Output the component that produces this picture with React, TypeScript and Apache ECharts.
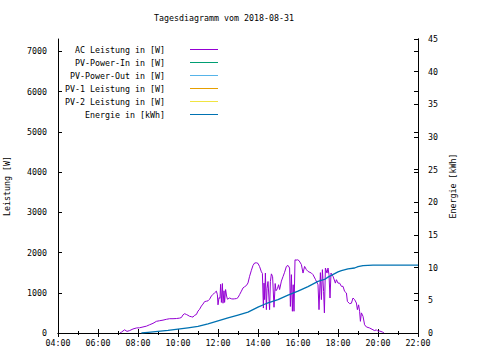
import React, { useEffect, useRef } from "react";
import * as echarts from "echarts";

const titleText = "Tagesdiagramm vom 2018-08-31";
const leftAxisName = "Leistung [W]";
const rightAxisName = "Energie [kWh]";

const legendNames = [
  "AC Leistung in [W]",
  "PV-Power-In in [W]",
  "PV-Power-Out in [W]",
  "PV-1 Leistung in [W]",
  "PV-2 Leistung in [W]",
  "Energie in [kWh]",
];
const legendColors = ["#9400d3", "#009e73", "#56b4e9", "#e69f00", "#f0e442", "#0072b2"];

// time in hours (decimal), AC power in W
const acTimes = [
  7.1, 7.17, 7.33, 7.45, 7.58, 7.75, 7.92, 8.08, 8.25, 8.42, 8.58, 8.75, 8.92, 9.08, 9.25, 9.42, 9.58, 9.75, 9.92,
  10.08, 10.17, 10.25, 10.33, 10.42, 10.5, 10.58, 10.67, 10.75, 10.83, 10.92, 11.0, 11.08, 11.17, 11.25, 11.33,
  11.42, 11.5, 11.58, 11.67, 11.75, 11.83, 11.92, 11.97, 12.0, 12.05, 12.1, 12.13, 12.17, 12.22, 12.25, 12.3,
  12.33, 12.38, 12.43, 12.47, 12.58, 12.67, 12.75, 12.83, 12.92, 13.0, 13.08, 13.17, 13.25, 13.33, 13.42, 13.5,
  13.58, 13.67, 13.75, 13.83, 13.92, 14.0, 14.08, 14.17, 14.22, 14.27, 14.3, 14.33, 14.37, 14.42, 14.45, 14.5,
  14.58, 14.62, 14.67, 14.73, 14.8, 14.86, 14.9, 14.97, 15.03, 15.08, 15.17, 15.25, 15.33, 15.42, 15.5, 15.58,
  15.62, 15.67, 15.72, 15.76, 15.8, 15.85, 15.9, 15.97, 16.05, 16.17, 16.25, 16.33, 16.42, 16.5, 16.67, 16.75,
  16.88, 17.0, 17.05, 17.12, 17.17, 17.22, 17.28, 17.32, 17.37, 17.45, 17.5, 17.55, 17.6, 17.65, 17.75, 17.87,
  17.92, 18.0, 18.08, 18.17, 18.25, 18.33, 18.42, 18.47, 18.58, 18.67, 18.75, 18.83, 18.92, 18.97, 19.03, 19.08,
  19.12, 19.17, 19.25, 19.33, 19.42, 19.58, 19.75, 19.83, 19.92, 20.0, 20.08, 20.22, 20.3,
];
const acValues = [
  0, 20, 80, 40, 60, 100, 125, 130, 150, 170, 205, 240, 290, 305, 320, 340, 355, 355, 360,
  370, 385, 450, 480, 460, 440, 415, 405, 395, 440, 460, 545, 590, 670, 720, 780,
  790, 800, 840, 920, 960, 1000, 1040, 950, 700, 880, 860, 1210, 760, 1230, 740, 1050,
  760, 1080, 920, 840, 870, 850, 845, 850, 855, 880, 955, 1040, 1120, 1150, 1180, 1245,
  1410, 1560, 1680, 1740, 1745, 1730, 1650, 1520, 1480, 620, 1240, 830, 1490, 580, 1100, 1280,
  580, 1280, 1470, 1400, 640, 1230, 1050, 1100, 1200, 1080, 1290, 1400, 1510, 1655, 1680, 1615,
  660, 1450, 540, 1200, 540, 1820, 1810, 1820, 1800, 1700, 1490, 1655, 1575, 1530, 1490, 1450,
  1325, 1200, 580, 1500, 830, 1575, 1035, 500, 1615, 1490, 1615, 1450, 870, 1490, 1410, 1240,
  1325, 1240, 1240, 1160, 1160, 1035, 995, 785, 730, 740, 870, 830, 745, 580, 700, 540,
  290, 500, 415, 205, 150, 125, 80, 60, 80, 40, 50, 25, 0,
];

// time in hours, energy in kWh
const energyTimes = [
  8.17, 8.5, 9.0, 9.5, 10.0, 10.5, 11.0, 11.5, 12.0, 12.5, 13.0, 13.5, 14.0, 14.33, 14.5, 15.0, 15.5, 16.0,
  16.5, 17.0, 17.33, 17.5, 18.0, 18.17, 18.5, 18.83, 19.0, 19.25, 19.75, 22.0,
];
const energyValues = [
  0.0, 0.1, 0.25, 0.4, 0.6, 0.8, 1.0, 1.4, 1.85, 2.3, 2.75, 3.2, 3.95, 4.4, 4.6, 5.1, 5.8, 6.4,
  7.1, 7.9, 8.2, 8.55, 9.35, 9.55, 9.8, 9.95, 10.15, 10.3, 10.4, 10.4,
];

const xTicks = [4, 22, 2];
const leftTicks = [0, 7308, 1000];
const rightTicks = [0, 45, 5];

const FONT = "DejaVu Sans Mono";
const FS = 8.3;

export default function App() {
  const ref = useRef<HTMLDivElement>(null);
  useEffect(() => {
    document.body.style.margin = "0";
    const chart = echarts.init(ref.current!, null, { renderer: "svg" });
    const black = "#000";
    const fmtTime = (v: number) => (v < 10 ? "0" : "") + v + ":00";
    const axisCommon = {
      axisLine: { show: true, lineStyle: { color: black, width: 1 } },
      axisTick: { show: true, inside: true, length: 4, lineStyle: { color: black } },
      splitLine: { show: false },
    };
    const acData = acTimes.map((t, i) => [t, acValues[i]]);
    const enData = energyTimes.map((t, i) => [t, energyValues[i]]);
    const legendGraphics: any[] = [];
    legendNames.forEach((n, i) => {
      const y = 49.5 + i * 13;
      legendGraphics.push({
        type: "text",
        x: 165,
        y,
        z: 100,
        style: { text: n, fill: black, font: `${FS}px "${FONT}"`, textAlign: "right", textVerticalAlign: "middle" },
      });
      legendGraphics.push({
        type: "line",
        shape: { x1: 190, y1: y, x2: 218, y2: y },
        style: { stroke: legendColors[i], lineWidth: 1 },
      });
    });
    const gridBox = { left: 58, right: 62, top: 39, bottom: 27, containLabel: false, outerBoundsMode: "none" };
    chart.setOption({
      animation: false,
      backgroundColor: "#fff",
      grid: [{ ...gridBox }, { ...gridBox }],
      xAxis: [
        {
          ...axisCommon,
          gridIndex: 0,
          type: "value",
          position: "bottom",
          min: xTicks[0],
          max: xTicks[1],
          interval: xTicks[2],
          minorTick: { show: true, splitNumber: 2, length: 2, lineStyle: { color: black } },
          axisLabel: { margin: 6, color: black, fontFamily: FONT, fontSize: FS, formatter: fmtTime },
        },
        {
          ...axisCommon,
          gridIndex: 1,
          type: "value",
          position: "top",
          min: xTicks[0],
          max: xTicks[1],
          interval: xTicks[2],
          minorTick: { show: true, splitNumber: 2, length: 2, lineStyle: { color: black } },
          axisLabel: { show: false },
        },
      ],
      yAxis: [
        {
          ...axisCommon,
          gridIndex: 0,
          type: "value",
          position: "left",
          min: leftTicks[0],
          max: leftTicks[1],
          interval: leftTicks[2],
          axisLabel: {
            margin: 11,
            color: black,
            fontFamily: FONT,
            fontSize: FS,
            showMaxLabel: false,
            formatter: (v: number) => String(v),
          },
          name: leftAxisName,
          nameLocation: "middle",
          nameRotate: 90,
          nameGap: 47,
          nameTextStyle: { color: black, fontFamily: FONT, fontSize: FS },
        },
        {
          ...axisCommon,
          gridIndex: 0,
          type: "value",
          position: "right",
          min: rightTicks[0],
          max: rightTicks[1],
          interval: rightTicks[2],
          axisLabel: { margin: 10, color: black, fontFamily: FONT, fontSize: FS, formatter: (v: number) => String(v) },
          name: rightAxisName,
          nameLocation: "middle",
          nameRotate: 90,
          nameGap: 30,
          nameTextStyle: { color: black, fontFamily: FONT, fontSize: FS },
        },
        {
          ...axisCommon,
          gridIndex: 1,
          type: "value",
          position: "right",
          min: leftTicks[0],
          max: leftTicks[1],
          interval: leftTicks[2],
          axisLabel: { show: false },
        },
      ],
      graphic: [
        {
          type: "text",
          x: 224,
          y: 18,
          style: { text: titleText, fill: black, font: `${FS}px "${FONT}"`, textAlign: "center", textVerticalAlign: "middle" },
        },
        ...legendGraphics,
      ],
      series: [
        {
          name: legendNames[0],
          type: "line",
          xAxisIndex: 0,
          yAxisIndex: 0,
          data: acData,
          showSymbol: false,
          lineStyle: { color: legendColors[0], width: 1 },
          itemStyle: { color: legendColors[0] },
        },
        ...[1, 2, 3, 4].map((i) => ({
          name: legendNames[i],
          type: "line",
          xAxisIndex: 0,
          yAxisIndex: 0,
          data: [],
          showSymbol: false,
          lineStyle: { color: legendColors[i], width: 1 },
        })),
        {
          name: legendNames[5],
          type: "line",
          xAxisIndex: 0,
          yAxisIndex: 1,
          data: enData,
          showSymbol: false,
          lineStyle: { color: legendColors[5], width: 1.3 },
          itemStyle: { color: legendColors[5] },
        },
      ],
    });
    return () => chart.dispose();
  }, []);
  return <div ref={ref} style={{ width: 480, height: 360 }} />;
}
